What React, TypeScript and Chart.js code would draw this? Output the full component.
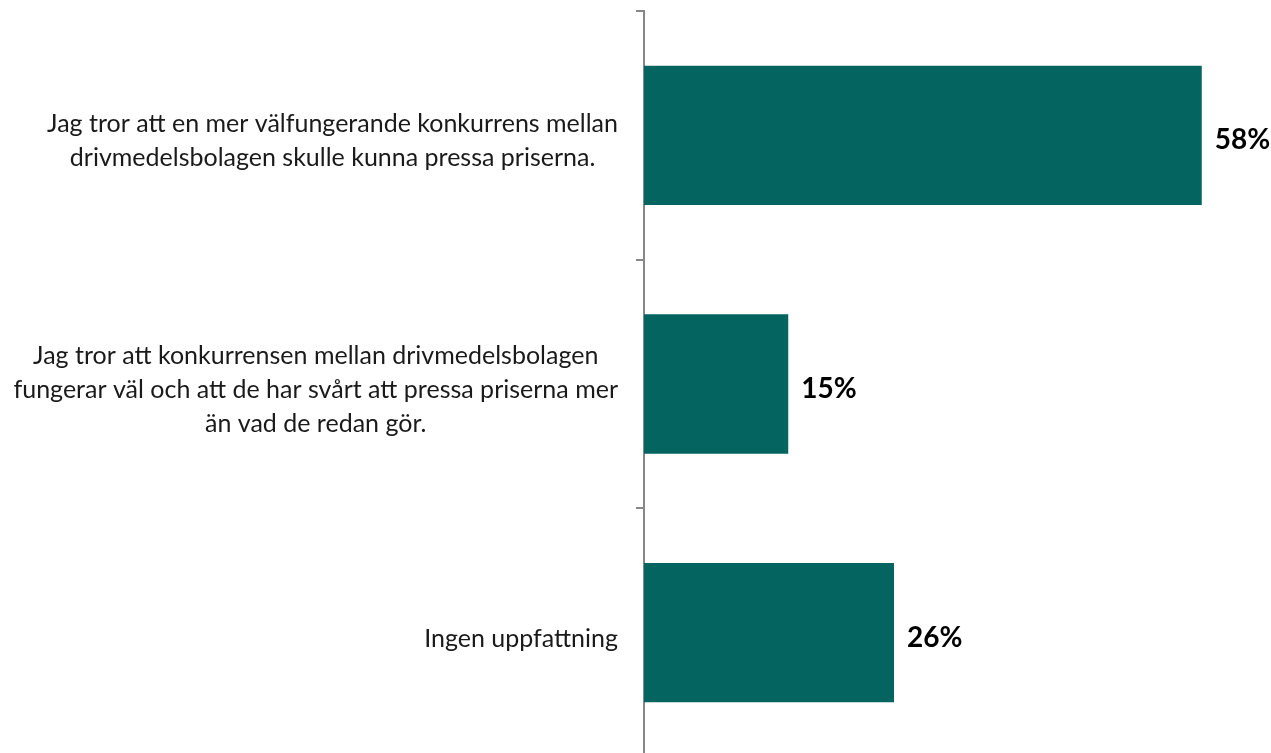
import React, { useEffect, useRef } from "react";
import { Chart, registerables } from "chart.js";

Chart.register(...registerables);

const categories: string[][] = [
  ["Jag tror att en mer välfungerande konkurrens mellan", "drivmedelsbolagen skulle kunna pressa priserna."],
  ["Jag tror att konkurrensen mellan drivmedelsbolagen", "fungerar väl och att de har svårt att pressa priserna mer", "än vad de redan gör."],
  ["Ingen uppfattning"],
];
const values: number[] = [58, 15, 26];
const valueLabels: string[] = ["58%", "15%", "26%"];

const BAR_COLOR = "#04645F";
const AXIS_COLOR = "#878787";
const LABEL_FONT = "25px Lato";
const VALUE_FONT = "bold 28px Lato";

const labelPlugin = {
  id: "customLabels",
  afterDraw(chart: any) {
    const ctx = chart.ctx;
    const yScale = chart.scales.y;
    ctx.save();
    ctx.font = LABEL_FONT;
    ctx.fillStyle = "#1a1a1a";
    ctx.textAlign = "center";
    ctx.textBaseline = "middle";
    const lineH = 34;
    const right = yScale.right - 26;
    categories.forEach((lines, i) => {
      const cy = yScale.getPixelForTick(i) + 6;
      const widest = Math.max(...lines.map((l) => ctx.measureText(l).width));
      const cx = right - widest / 2;
      lines.forEach((line, j) => {
        ctx.fillText(line, cx, cy + (j - (lines.length - 1) / 2) * lineH);
      });
    });
    ctx.font = VALUE_FONT;
    ctx.fillStyle = "#000";
    ctx.textAlign = "left";
    const meta = chart.getDatasetMeta(0);
    meta.data.forEach((el: any, i: number) => {
      ctx.fillText(valueLabels[i], el.x + 13, el.y + 5);
    });
    ctx.restore();
  },
};

export default function App() {
  const ref = useRef<HTMLCanvasElement | null>(null);
  useEffect(() => {
    if (!ref.current) return;
    const chart = new Chart(ref.current, {
      type: "bar",
      data: {
        labels: categories.map((c) => c.join(" ")),
        datasets: [
          {
            data: values,
            backgroundColor: BAR_COLOR,
            borderWidth: 0,
            barPercentage: 0.56,
            categoryPercentage: 1,
          },
        ],
      },
      options: {
        indexAxis: "y",
        animation: false,
        responsive: true,
        maintainAspectRatio: false,
        layout: { padding: { top: 11, bottom: 1, left: 0, right: 0 } },
        plugins: { legend: { display: false }, tooltip: { enabled: false } },
        scales: {
          x: { display: false, min: 0, max: 65.2 },
          y: {
            position: "left",
            grid: {
              offset: true,
              drawOnChartArea: false,
              drawTicks: true,
              tickLength: 8,
              color: AXIS_COLOR,
              lineWidth: 2,
            },
            border: { display: true, color: AXIS_COLOR, width: 2 },
            ticks: { display: false },
            afterFit(scale: any) {
              scale.width = 644;
            },
          },
        },
      },
      plugins: [labelPlugin],
    });
    return () => chart.destroy();
  }, []);
  return (
    <div style={{ position: "fixed", left: 0, top: 0, right: 0, bottom: 0, overflow: "hidden", background: "#fff" }}>
      <div style={{ position: "absolute", left: 0, top: 0, width: 1271, height: 758 }}>
        <canvas ref={ref} />
      </div>
    </div>
  );
}
